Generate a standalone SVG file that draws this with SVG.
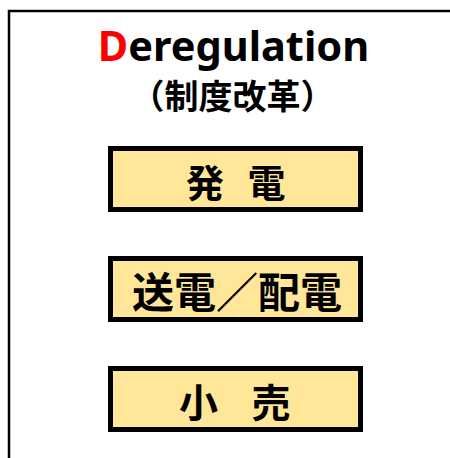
<svg xmlns="http://www.w3.org/2000/svg" width="450" height="458" viewBox="0 0 450 458">
<style>
.frame{fill:#fff;stroke:#000;stroke-width:2.5}
.box{fill:#FFE699;stroke:#000;stroke-width:5}
.jp{font-family:"Noto Sans CJK JP","Noto Sans",sans-serif;font-weight:bold;fill:#000;text-anchor:middle;dominant-baseline:central}
.en{font-family:"Noto Sans","DejaVu Sans",sans-serif;font-weight:bold;fill:#000;text-anchor:middle}
</style>
<rect width="450" height="458" fill="#fff"/>
<rect class="frame" x="9" y="11" width="500" height="500"/>
<g id="title">
<text class="en" x="233.5" y="61" font-size="41.5"><tspan fill="#FF0000">D</tspan>eregulation</text>
<text class="jp" x="232.5" y="94" font-size="34">（制度改革）</text>
</g>
<g id="node-generation">
<rect class="box" x="110.5" y="148.5" width="250" height="61"/>
<text class="jp" y="180" font-size="38"><tspan x="205">発</tspan><tspan x="266.5">電</tspan></text>
</g>
<g id="node-transmission">
<rect class="box" x="110.5" y="258.5" width="250" height="61"/>
<text class="jp" x="237" y="289.5" font-size="42">送電／配電</text>
</g>
<g id="node-retail">
<rect class="box" x="110.5" y="368.5" width="250" height="61"/>
<text class="jp" y="400" font-size="39"><tspan x="198.5">小</tspan><tspan x="271">売</tspan></text>
</g>
<g id="connectors"/>
</svg>
